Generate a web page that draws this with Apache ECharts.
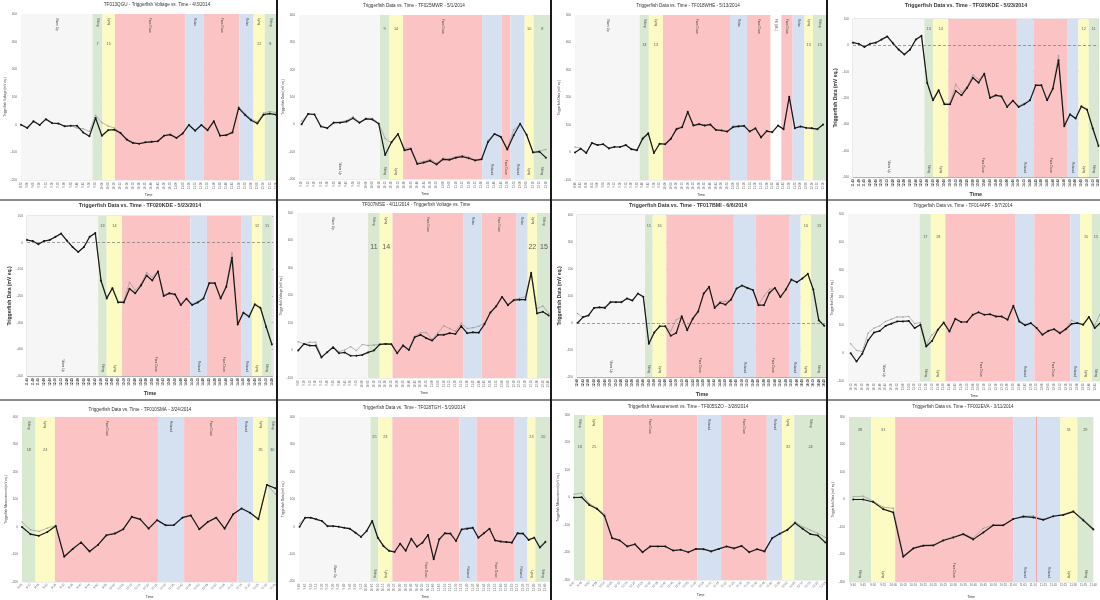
<!DOCTYPE html>
<html>
<head>
<meta charset="utf-8">
<script src="https://cdn.jsdelivr.net/npm/echarts@6/dist/echarts.min.js"></script>
<style>
  html, body { margin: 0; background: #fff; }
  #chart { width: 1100px; height: 600px; }
</style>
</head>
<body>
<div id="chart"></div>
<script>
// time labels on the x axes (one per reading)
function clock(h, m, n, step) {
  const out = [];
  for (let i = 0; i < n; i++) {
    const t = h * 60 + m + i * step;
    out.push(Math.floor(t / 60) + ':' + String(t % 60).padStart(2, '0'));
  }
  return out;
}

// ---- TF013QGU 4/3/2014
const p1Times = clock(8, 55, 42, 5);
const p1Solid = [0, -12, 12, -1, 20, 6, 4, -6, -4, -4, -28, -42, 24, -40, -20, -18, -30, -54, -66, -69, -64, -62, -60, -40, -36, -48, -32, -1, -22, -1, -20, 12, -40, -38, -28, 60, 36, 16, 4, 36, 40, 36];
const p1Gray = [0, -10, 14, 0, 18, 4, 4, -4, -4, -12, -15, -25, 34, 8, -5, -12, -28, -52, -64, -68, -63, -60, -58, -38, -34, -46, -30, 0, -20, 0, -18, 14, -38, -36, -26, 66, 40, 20, 10, 42, 48, 44];
const p1Bands = [[0, 11.5, 'Warm Up'], [11.5, 13.1, 'Sitting'], [13.1, 15.1, 'Lying'], [15.1, 26.4, 'Face Down'], [26.4, 29.4, 'Relax'], [29.4, 35.1, 'Face Down'], [35.1, 37.4, 'Relax'], [37.4, 39.2, 'Lying'], [39.2, 41, 'Sitting']];
const p1Nums = [[1, '7'], [2, '15'], [7, '12'], [8, '8']];

// ---- TF025MWR 5/1/2014
const p2Times = clock(9, 10, 39, 5);
const p2Solid = [0, 38, 36, -8, -14, 6, 6, 10, 22, 6, 20, 18, 2, -112, -65, -35, -95, -90, -145, -140, -133, -147, -128, -130, -122, -118, -124, -132, -128, -65, -35, -46, -92, -40, 2, -38, -103, -100, -122];
const p2Gray = [12, 36, 38, -6, -12, 8, 8, 14, 28, 8, 22, 22, 4, -52, -68, -38, -88, -86, -140, -136, -128, -142, -124, -126, -118, -114, -120, -130, -126, -58, -36, -44, -88, -20, 0, -36, -100, -98, -92];
const p2Bands = [[-0.4, 12.2, 'Warm Up'], [12.2, 13.6, 'Sitting'], [13.6, 15.8, 'Lying'], [15.8, 28.1, 'Face Down'], [28.1, 31.1, 'Relaxed'], [31.1, 32.5, 'Face Down'], [32.5, 34.7, 'Relaxed'], [34.7, 36.1, 'Lying'], [36.1, 38.8, 'Sitting']];
const p2Nums = [[1, '9'], [2, '14'], [7, '10'], [8, '8']];

// ---- TF018WHE 5/13/2014
const p3Times = clock(8, 40, 45, 5);
const p3Solid = [0, 14, -2, 35, 27, 30, 15, 20, 20, 27, 12, 8, 50, 70, -2, 32, 30, 50, 85, 92, 148, 98, 103, 98, 102, 82, 80, 76, 92, 95, 97, 76, 88, 55, 78, 74, 98, 85, 203, 88, 95, 90, 88, 85, 102];
const p3Gray = [20, 16, 2, 33, 28, 32, 17, 22, 20, 28, 14, 10, 55, 68, 0, 30, 32, 48, 88, 95, 145, 100, 105, 100, 100, 84, 82, 78, 96, 98, 97, 78, 86, 58, 76, 76, 96, 86, 198, 90, 94, 88, 90, 84, 100];
const p3Bands = [[0, 11.5, 'Warm Up'], [11.5, 13.1, 'Sitting'], [13.1, 15.6, 'Lying'], [15.6, 27.5, 'Face Down'], [27.5, 30.5, 'Relax'], [30.5, 34.7, 'Face Down'], [34.7, 36.6, 'Fill (Wk.)'], [36.6, 38.6, 'Face Down'], [38.6, 40.7, 'Relax'], [40.7, 42.2, 'Lying'], [42.2, 44.7, 'Sitting']];
const p3Nums = [[1, '13'], [2, '13'], [9, '13'], [10, '15']];

// ---- TF020KDE 5/23/2014 (shown twice)
const p4Times = clock(11, 45, 44, 5);
const p4Solid = [10, 6, -6, 6, 10, 22, 34, 8, -16, -35, -16, 22, 36, -143, -209, -171, -224, -224, -173, -190, -161, -123, -142, -108, -200, -190, -194, -234, -210, -234, -224, -209, -152, -152, -209, -165, -57, -307, -263, -278, -232, -245, -316, -382];
const p4Gray = [12, 4, -4, 6, 12, 20, 32, 6, -18, -34, -18, 20, 34, -140, -205, -168, -220, -220, -148, -178, -156, -112, -130, -106, -196, -188, -192, -230, -208, -230, -220, -206, -150, -150, -206, -160, -38, -302, -260, -275, -228, -242, -312, -378];
const p4Bands = [[0, 12.5, 'Warm Up'], [12.5, 14, 'Sitting'], [14, 16.7, 'Lying'], [16.7, 28.7, 'Face Down'], [28.7, 31.6, 'Relaxed'], [31.6, 37.6, 'Face Down'], [37.6, 39.5, 'Relaxed'], [39.5, 41.3, 'Lying'], [41.3, 43, 'Sitting']];
const p4Nums = [[1, '13'], [2, '14'], [7, '12'], [8, '11']];

// ---- TF007MSE 4/11/2014
const p6Times = clock(9, 5, 44, 5);
const p6Solid = [0, 24, 18, 18, -25, -6, 12, -10, -7, -19, -19, -16, -7, 0, 22, 24, 23, -10, 18, 2, 48, 57, 45, 36, 57, 57, 63, 60, 89, 63, 66, 65, 96, 138, 161, 195, 165, 183, 185, 185, 282, 135, 141, 127];
const p6Gray = [32, 24, 30, 30, -22, -4, 12, -4, 2, 14, 0, 22, 18, 20, 22, 24, 23, -8, 22, 4, 52, 65, 65, 40, 65, 90, 80, 70, 100, 80, 83, 88, 100, 140, 163, 197, 168, 186, 190, 195, 285, 152, 162, 135];
const p6Bands = [[-0.2, 12, 'Warm Up'], [12, 14, 'Sitting'], [14, 16.2, 'Lying'], [16.2, 28.4, 'Face Down'], [28.4, 31.5, 'Relax'], [31.5, 37.5, 'Face Down'], [37.5, 39.4, 'Relax'], [39.4, 41, 'Lying'], [41, 43.4, 'Sitting']];
const p6Nums = [[1, '11'], [2, '14'], [7, '22'], [8, '15']];

// ---- TF017BMI 6/6/2014
const p7Times = clock(12, 40, 46, 5);
const p7Solid = [0, 22, 28, 56, 58, 56, 77, 77, 77, 91, 83, 109, 97, -77, -35, -12, -12, -47, -37, 25, -27, 16, 43, 109, 134, 56, 75, 68, 87, 128, 139, 130, 122, 66, 66, 112, 130, 96, 124, 161, 151, 165, 182, 124, 10, -10];
const p7Gray = [35, 20, 28, 55, 58, 60, 80, 78, 78, 90, 84, 108, 96, -75, -36, -12, -12, -30, 12, 22, -22, 12, 40, 106, 130, 60, 80, 80, 84, 126, 137, 128, 120, 68, 100, 125, 128, 98, 122, 158, 150, 165, 180, 124, 12, -8];
const p7Bands = [[-0.1, 12.3, 'Warm Up'], [12.3, 13.7, 'Sitting'], [13.7, 16.2, 'Lying'], [16.2, 28.5, 'Face Down'], [28.5, 32.5, 'Relaxed'], [32.5, 38.7, 'Face Down'], [38.7, 40.7, 'Relaxed'], [40.7, 42.6, 'Lying'], [42.6, 45.5, 'Sitting']];
const p7Nums = [[1, '15'], [2, '16'], [7, '16'], [8, '13']];

// ---- TF014APF 5/7/2014
const p8Times = clock(10, 15, 44, 5);
const p8Solid = [0, -30, -2, 46, 74, 80, 98, 106, 114, 114, 116, 90, 102, 24, 44, 84, 110, 78, 124, 112, 112, 138, 147, 138, 140, 132, 132, 120, 170, 114, 100, 108, 90, 66, 80, 86, 72, 86, 105, 108, 102, 130, 90, 110];
const p8Gray = [34, 10, 6, 72, 90, 98, 114, 122, 130, 130, 132, 106, 110, 30, 66, 86, 110, 80, 122, 112, 114, 136, 145, 138, 138, 130, 130, 122, 168, 118, 104, 106, 92, 68, 82, 88, 76, 88, 118, 108, 106, 128, 100, 145];
const p8Bands = [[-0.46, 11.9, 'Warm Up'], [11.9, 13.8, 'Sitting'], [13.8, 16.3, 'Lying'], [16.3, 28.4, 'Face Down'], [28.4, 31.6, 'Relaxed'], [31.6, 37.8, 'Face Down'], [37.8, 39.5, 'Relaxed'], [39.5, 41.5, 'Lying'], [41.5, 42.9, 'Sitting']];
const p8Nums = [[1, '17'], [2, '18'], [7, '15'], [8, '15']];

// ---- TF010SMA 3/24/2014
const p9Times = clock(9, 5, 31, 5);
const p9Solid = [0, -26, -32, -18, 4, -108, -80, -56, -89, -65, -30, -24, -8, 37, 28, -6, 25, 6, 7, 34, 42, -8, 18, 34, -6, 46, 67, 52, 28, 153, 141];
const p9Gray = [18, -10, -16, -4, 6, -106, -78, -54, -87, -63, -28, -22, -6, 38, 30, -4, 26, 8, 8, 35, 43, -6, 20, 35, -4, 47, 68, 53, 30, 155, 120];
const p9Bands = [[0, 1.6, 'Sitting'], [1.6, 3.9, 'Lying'], [3.9, 16.1, 'Face Down'], [16.1, 19.2, 'Relaxed'], [19.2, 25.5, 'Face Down'], [25.5, 27.4, 'Relaxed'], [27.4, 29.1, 'Lying'], [29.1, 30.2, 'Sitting']];
const p9Nums = [[0, '18'], [1, '24'], [6, '35'], [7, '30']];

// ---- TF028TGH 5/19/2014
const p10Times = clock(9, 0, 45, 5);
const p10Solid = [0, 33, 33, 27, 21, 2, 2, 0, -4, -7, -22, -37, -16, 21, -40, -70, -88, -92, -62, -88, -44, -73, -58, -30, -119, -46, -24, -25, -52, -10, -7, -4, -40, -24, -7, -50, -54, -56, -58, -24, -25, -48, -40, -76, -56];
const p10Gray = [12, 33, 33, 27, 22, 4, 3, 1, -3, -6, -20, -35, -14, 22, -38, -68, -86, -90, -60, -86, -42, -70, -56, -28, -116, -44, -22, -24, -50, -8, -4, -2, -38, -22, -6, -48, -52, -54, -56, -22, -24, -46, -38, -72, -52];
const p10Bands = [[-0.1, 12.7, 'Warm Up'], [12.7, 14.1, 'Sitting'], [14.1, 16.6, 'Lying'], [16.6, 28.6, 'Face Down'], [28.6, 31.7, 'Relaxed'], [31.7, 38.5, 'Face Down'], [38.5, 40.8, 'Relaxed'], [40.8, 42.2, 'Lying'], [42.2, 45, 'Sitting']];
const p10Nums = [[1, '25'], [2, '23'], [7, '23'], [8, '20']];

// ---- TF005SZO 3/28/2014
const p11Times = clock(9, 40, 34, 5);
const p11Solid = [0, 1, -27, -41, -67, -148, -156, -178, -170, -199, -178, -178, -178, -193, -190, -199, -187, -188, -196, -187, -178, -185, -176, -199, -188, -196, -148, -132, -118, -93, -114, -133, -138, -164];
const p11Gray = [12, 16, -22, -38, -60, -146, -155, -176, -169, -197, -177, -177, -177, -192, -189, -198, -186, -187, -195, -186, -177, -184, -175, -197, -187, -194, -146, -130, -115, -88, -106, -118, -130, -145];
const p11Bands = [[0, 1.5, 'Sitting'], [1.5, 3.8, 'Lying'], [3.8, 16.2, 'Face Down'], [16.2, 19.3, 'Relaxed'], [19.3, 25.3, 'Face Down'], [25.3, 27.3, 'Relaxed'], [27.3, 28.9, 'Lying'], [28.9, 33.2, 'Sitting']];
const p11Nums = [[0, '18'], [1, '25'], [6, '32'], [7, '24']];

// ---- TF002EVA 3/11/2014
const p12Times = clock(9, 40, 25, 5);
const p12Solid = [0, 0, -9, -35, -47, -208, -178, -168, -167, -149, -138, -126, -145, -120, -94, -94, -71, -62, -65, -74, -61, -56, -44, -76, -109];
const p12Gray = [10, 12, -5, -28, -32, -205, -176, -166, -165, -147, -136, -124, -140, -105, -92, -92, -70, -60, -60, -72, -60, -54, -42, -72, -105];
const p12Bands = [[-0.42, 1.8, 'Sitting'], [1.8, 4.2, 'Lying'], [4.2, 16, 'Face Down'], [16, 18.3, 'Relaxed'], [18.3, 20.7, 'Relaxed'], [20.7, 22.4, 'Lying'], [22.4, 24, 'Sitting']];
const p12Nums = [[0, '28'], [1, '31'], [5, '31'], [6, '29']];
const p12Marker = 18.3;

const bandColor = {
  'Warm Up': '#f6f6f6',
  'Sitting': '#d9e8d1',
  'Lying': '#fdfbc4',
  'Face Down': '#fbc3c3',
  'Relax': '#d5e1f1',
  'Relaxed': '#d5e1f1',
  'Fill (Wk.)': '#ffffff'
};

// layout of the twelve small charts
const panels = [
  { title: 'TF013QGU - Triggerfish Voltage vs. Time - 4/3/2014', tc: [157, 5], rect: [21, 14, 255, 166], xr: [0, 41],
    times: p1Times, solid: p1Solid, gray: p1Gray, bands: p1Bands, nums: p1Nums, numY: 290, y: [-200, 400],
    yName: 'Triggerfish Voltage (mV eq.)', labels: 'top', rot: 90 },
  { title: 'Triggerfish Data vs. Time - TF025MWR - 5/1/2014', tc: [414, 6], rect: [299, 15, 252, 164], xr: [-0.4, 38.8],
    times: p2Times, solid: p2Solid, gray: p2Gray, bands: p2Bands, nums: p2Nums, numY: 350, y: [-200, 400],
    yName: 'Triggerfish Data (mV eq.)', labels: 'bottom', topIdx: [3], rot: 90 },
  { title: 'Triggerfish Data vs. Time - TF018WHE - 5/13/2014', tc: [688, 6], rect: [575, 15, 252, 165], xr: [0, 44.7],
    times: p3Times, solid: p3Solid, gray: p3Gray, bands: p3Bands, nums: p3Nums, numY: 390, y: [-100, 500],
    yName: 'Triggerfish Data (mV eq.)', labels: 'top', rot: 90 },
  { title: 'Triggerfish Data vs. Time - TF020KDE - 5/23/2014', tc: [966, 6], rect: [853, 19, 247, 158], xr: [0, 43],
    times: p4Times, solid: p4Solid, gray: p4Gray, bands: p4Bands, nums: p4Nums, numY: 63, y: [-500, 100],
    yName: 'Triggerfish Data (mV eq.)', labels: 'bottom', rot: 90, bold: true },
  { title: 'Triggerfish Data vs. Time - TF020KDE - 5/23/2014', tc: [140, 206], rect: [27, 216, 246, 160], xr: [0, 43.2],
    times: p4Times, solid: p4Solid, gray: p4Gray, bands: p4Bands, nums: p4Nums, numY: 63, y: [-500, 100],
    yName: 'Triggerfish Data (mV eq.)', labels: 'bottom', rot: 90, bold: true },
  { title: 'TF007MSE - 4/11/2014 - Triggerfish Voltage vs. Time', tc: [416, 205], rect: [297, 213, 254, 165], xr: [-0.2, 43.4],
    times: p6Times, solid: p6Solid, gray: p6Gray, bands: p6Bands, nums: p6Nums, numY: 376, y: [-100, 500],
    yName: 'Triggerfish Voltage (mV eq.)', labels: 'top', rot: 90, bigNums: true },
  { title: 'Triggerfish Data vs. Time - TF017BMI - 6/6/2014', tc: [688, 206], rect: [577, 215, 250, 162], xr: [-0.1, 45.5],
    times: p7Times, solid: p7Solid, gray: p7Gray, bands: p7Bands, nums: p7Nums, numY: 358, y: [-200, 400],
    yName: 'Triggerfish Data (mV eq.)', labels: 'bottom', rot: 90, bold: true },
  { title: 'Triggerfish Data vs. Time - TF014APF - 5/7/2014', tc: [963, 206], rect: [848, 214, 252, 167], xr: [-0.46, 42.9],
    times: p8Times, solid: p8Solid, gray: p8Gray, bands: p8Bands, nums: p8Nums, numY: 417, y: [-100, 500],
    yName: 'Triggerfish Data (mV eq.)', labels: 'bottom', rot: 90 },
  { title: 'Triggerfish Data vs. Time - TF010SMA - 3/24/2014', tc: [140, 410], rect: [22, 417, 255, 167], xr: [0, 30.2],
    times: p9Times, solid: p9Solid, gray: p9Gray, bands: p9Bands, nums: p9Nums, numY: 279, y: [-200, 400],
    yName: 'Triggerfish Measurement (mV eq.)', labels: 'top', rot: 45 },
  { title: 'Triggerfish Data vs. Time - TF028TGH - 5/19/2014', tc: [414, 408], rect: [299, 417, 252, 166], xr: [-0.1, 45],
    times: p10Times, solid: p10Solid, gray: p10Gray, bands: p10Bands, nums: p10Nums, numY: 326, y: [-200, 400],
    yName: 'Triggerfish Data (mV eq.)', labels: 'bottom', rot: 90 },
  { title: 'Triggerfish Measurement vs. Time - TF005SZO - 3/28/2014', tc: [688, 407], rect: [574, 415, 253, 165], xr: [0, 33.2],
    times: p11Times, solid: p11Solid, gray: p11Gray, bands: p11Bands, nums: p11Nums, numY: 185, y: [-300, 300],
    yName: 'Triggerfish Measurement (mV eq.)', labels: 'top', rot: 45 },
  { title: 'Triggerfish Data vs. Time - TF002EVA - 3/11/2014', tc: [963, 407], rect: [849, 417, 251, 170], xr: [-0.42, 24],
    times: p12Times, solid: p12Solid, gray: p12Gray, bands: p12Bands, nums: p12Nums, numY: 253, y: [-300, 300],
    yName: 'Triggerfish Data (mV eq.)', labels: 'bottom', rot: 0, marker: p12Marker }
];

const grid = [], xAxis = [], yAxis = [], series = [], graphic = [];

panels.forEach((p, k) => {
  const bold = !!p.bold;
  grid.push({
    left: p.rect[0], top: p.rect[1], width: p.rect[2], height: p.rect[3],
    show: true, backgroundColor: '#fff', borderWidth: bold ? 0.6 : 0, borderColor: '#bbb'
  });
  xAxis.push({
    gridIndex: k, type: 'value', min: p.xr[0], max: p.xr[1],
    axisLine: { show: false }, axisTick: { show: false }, splitLine: { show: false },
    axisLabel: {
      customValues: p.times.map((t, i) => i),
      formatter: v => p.times[Math.round(v)] || '',
      rotate: p.rot, fontSize: 3, color: bold ? '#222' : '#666', margin: 2,
      fontWeight: bold ? 'bold' : 'normal'
    },
    name: 'Time', nameLocation: 'middle', nameGap: bold ? 14 : 13,
    nameTextStyle: { fontSize: bold ? 5.5 : 3.5, fontWeight: bold ? 'bold' : 'normal', color: '#333' }
  });
  yAxis.push({
    gridIndex: k, type: 'value', min: p.y[0], max: p.y[1], interval: 100,
    axisLine: { show: false }, axisTick: { show: false },
    axisLabel: { fontSize: 3.2, color: '#666', margin: 4 },
    splitLine: { lineStyle: { color: bold ? '#9a9a9a' : '#dedede', width: bold ? 0.7 : 0.5 } },
    name: p.yName, nameLocation: 'middle', nameGap: bold ? 15 : 11,
    nameTextStyle: { fontSize: bold ? 5 : 3.2, fontWeight: bold ? 'bold' : 'normal', color: '#333' }
  });

  const bandData = p.bands.map((b, j) => {
    const top = p.labels === 'top' || (p.topIdx && p.topIdx.includes(j));
    return [{
      xAxis: b[0], name: b[2], itemStyle: { color: bandColor[b[2]] },
      label: {
        show: true, position: top ? 'insideTop' : 'insideBottom', rotate: -90,
        align: top ? 'left' : 'right', verticalAlign: 'middle', distance: 4,
        fontSize: 3, color: '#444'
      }
    }, { xAxis: b[1] }];
  });

  // second (lighter) reading, drawn under the main one
  series.push({
    type: 'line', xAxisIndex: k, yAxisIndex: k, z: 2, silent: true,
    data: p.gray.map((v, i) => [i, v]),
    symbol: 'circle', symbolSize: 1.4,
    lineStyle: { color: '#9a9a9a', width: 0.7 },
    itemStyle: { color: '#9a9a9a' },
    markArea: { silent: true, data: bandData }
  });

  const lines = [];
  if (bold) lines.push({ yAxis: 0, lineStyle: { color: '#777', type: [3, 2], width: 0.7 } });
  if (p.marker != null) lines.push({ xAxis: p.marker, lineStyle: { color: '#f3a3a3', type: 'solid', width: 1 } });
  series.push({
    type: 'line', xAxisIndex: k, yAxisIndex: k, z: 3, silent: true,
    data: p.solid.map((v, i) => [i, v]),
    symbol: 'circle', symbolSize: 2,
    lineStyle: { color: '#161616', width: 1.2 },
    itemStyle: { color: '#161616' },
    markLine: lines.length ? { silent: true, symbol: 'none', label: { show: false }, data: lines } : undefined
  });

  series.push({
    type: 'scatter', xAxisIndex: k, yAxisIndex: k, z: 4, silent: true,
    symbolSize: 0,
    data: p.nums.map(n => [(p.bands[n[0]][0] + p.bands[n[0]][1]) / 2, p.numY, n[1]]),
    label: {
      show: true, position: 'inside', formatter: q => q.value[2],
      fontSize: p.bigNums ? 7 : 3.8, color: '#333'
    }
  });

  graphic.push({
    type: 'text', x: p.tc[0], y: p.tc[1], silent: true,
    style: {
      text: p.title, align: 'center', verticalAlign: 'middle',
      fontSize: bold ? 5.3 : 4.6, fontWeight: bold ? 'bold' : 'normal',
      fill: '#333', fontFamily: 'Liberation Sans, Arial, sans-serif'
    }
  });
});

// dark frame lines between the panels
[[277, 0, 277, 600, 2], [551, 0, 551, 600, 2], [827, 0, 827, 600, 2], [0, 200, 1100, 200, 1], [0, 400, 1100, 400, 1]].forEach(s => {
  graphic.push({
    type: 'line', silent: true, z: 100,
    shape: { x1: s[0], y1: s[1], x2: s[2], y2: s[3] },
    style: { stroke: '#1a1a1a', lineWidth: s[4] }
  });
});

const chart = echarts.init(document.getElementById('chart'));
chart.setOption({
  animation: false,
  backgroundColor: '#fff',
  textStyle: { fontFamily: 'Liberation Sans, Arial, sans-serif' },
  grid, xAxis, yAxis, series, graphic
});
</script>
</body>
</html>
